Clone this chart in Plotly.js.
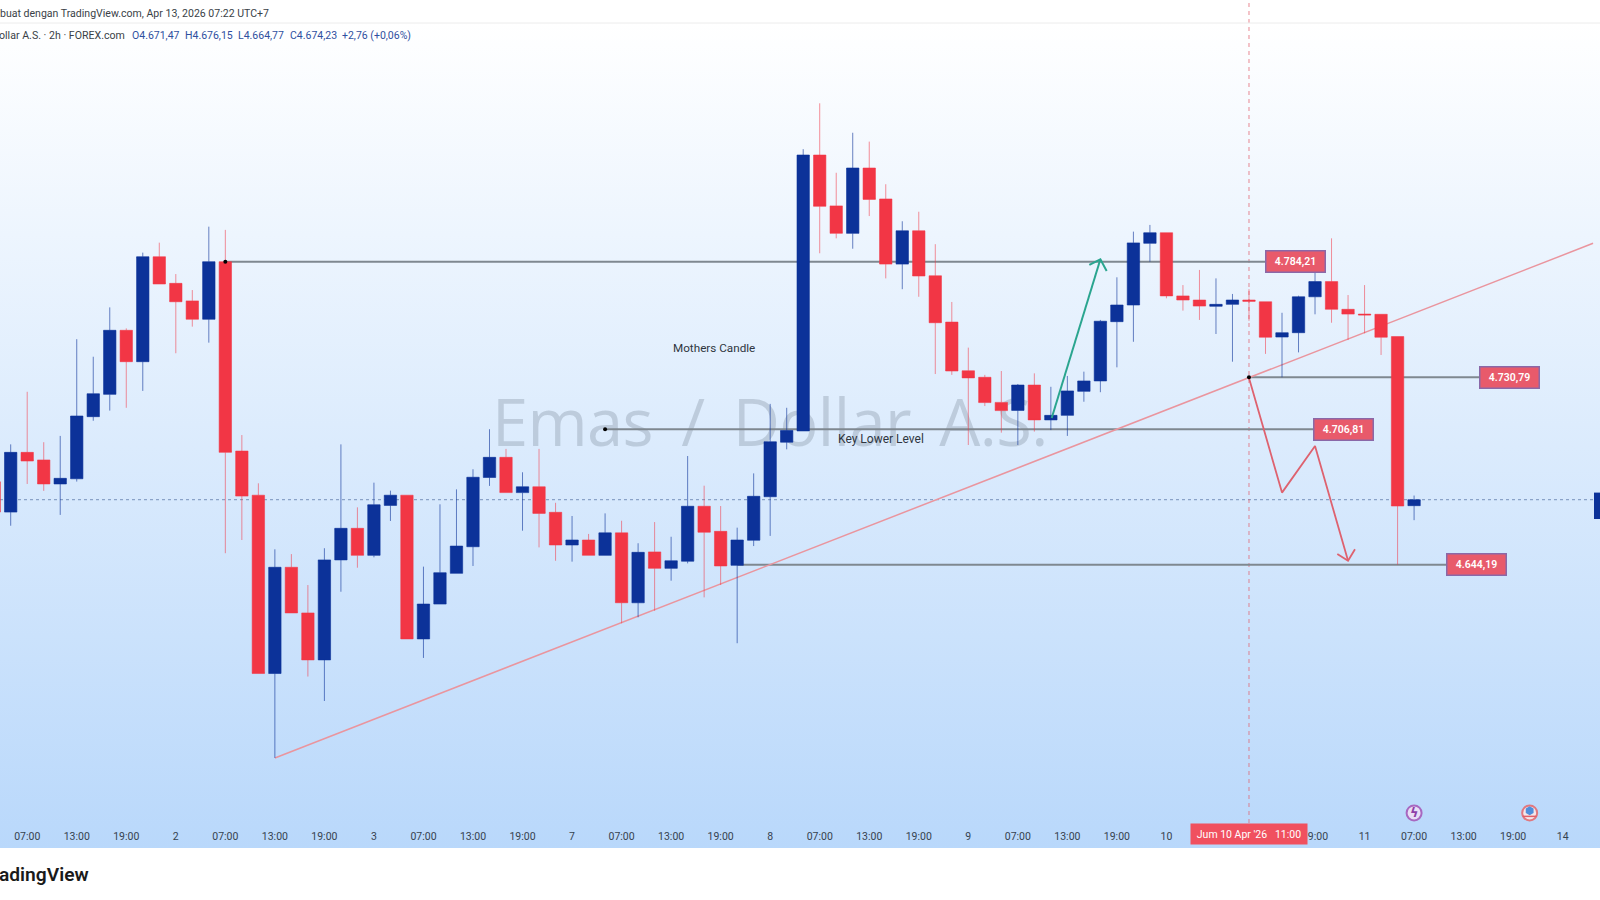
<!DOCTYPE html>
<html>
<head>
<meta charset="utf-8">
<script src="https://cdn.plot.ly/plotly-3.0.1.min.js"></script>
<style>
  html, body { margin: 0; padding: 0; background: #fff; overflow: hidden; }
  #bg { position: absolute; left: 0; top: 23px; width: 1600px; height: 825px;
        background: linear-gradient(to bottom, #ffffff 0%, #b9d8fb 100%); }
  #mark { position: absolute; left: 492px; top: 377px; white-space: nowrap; letter-spacing: -0.6px; word-spacing: 12px;
          font: 65px "Open Sans", sans-serif; color: rgba(110,125,140,0.29); }
  #chart { position: absolute; left: 0; top: 0; width: 1600px; height: 900px; }
</style>
</head>
<body>
<div id="bg"></div>
<div id="mark">Emas / Dollar A.S.</div>
<div id="chart"></div>
<script>
// candles, index -1 is the one cut off by the left edge
var open = [4682.5,4668.5,4696.1,4692.6,4681.5,4683.9,4712.6,4722.9,4752.5,4738.0,4786.5,4774.2,4766.1,4757.6,4784.2,4696.7,4676.3,4593.9,4643.0,4621.9,4600.2,4646.4,4661.0,4648.5,4671.6,4676.3,4609.9,4626.0,4640.2,4652.5,4684.5,4693.8,4677.5,4680.2,4668.4,4653.3,4655.6,4648.5,4658.9,4626.6,4650.1,4642.5,4645.8,4671.2,4659.6,4643.9,4655.5,4675.6,4700.8,4706.0,4833.5,4810.0,4797.3,4827.5,4813.2,4783.1,4798.5,4777.7,4756.3,4733.8,4730.8,4719.2,4715.5,4727.2,4711.1,4713.2,4724.3,4729.1,4756.5,4764.2,4792.7,4797.6,4768.4,4766.5,4763.6,4764.5,4766.5,4765.7,4749.4,4751.4,4768.0,4775.0,4762.2,4760.0,4759.9,4749.6,4671.47];
var high = [4682.5,4699.8,4724.1,4700.8,4703.7,4748.4,4740.3,4763.1,4753.4,4788.4,4793.0,4778.5,4771.1,4800.4,4798.9,4704.1,4681.8,4651.3,4649.1,4634.8,4651.8,4699.8,4670.7,4682.1,4678.4,4676.3,4643.3,4672.1,4679.0,4688.3,4706.8,4697.7,4686.9,4697.7,4672.8,4666.7,4658.4,4667.9,4664.5,4654.1,4663.9,4657.1,4694.4,4680.7,4671.3,4661.3,4686.4,4718.5,4716.7,4836.2,4857.4,4825.3,4843.8,4839.7,4820.0,4802.9,4807.3,4792.3,4765.6,4744.5,4731.9,4733.7,4727.7,4732.6,4726.4,4731.4,4733.4,4757.3,4777.0,4798.1,4801.2,4797.6,4773.4,4780.4,4776.5,4769.3,4771.5,4765.7,4760.6,4768.5,4782.7,4795.0,4768.8,4773.4,4759.9,4749.6,4676.15];
var low = [4668.5,4662.2,4681.5,4678.3,4667.2,4682.6,4710.7,4715.4,4716.7,4724.5,4773.9,4741.9,4754.2,4746.8,4649.5,4655.6,4593.9,4554.9,4621.9,4592.5,4581.2,4631.7,4642.8,4647.6,4664.4,4609.9,4601.1,4626.0,4640.2,4643.6,4680.6,4677.5,4659.9,4652.2,4646.0,4645.6,4648.5,4648.5,4617.1,4619.9,4622.9,4636.8,4644.8,4629.1,4634.8,4607.9,4652.8,4657.5,4697.5,4706.0,4788.1,4795.0,4790.2,4805.3,4776.5,4771.5,4768.0,4732.3,4731.9,4699.5,4717.5,4705.2,4699.5,4705.7,4706.4,4703.7,4719.5,4723.9,4735.4,4747.2,4784.2,4767.3,4761.6,4757.3,4750.8,4738.0,4756.9,4741.6,4730.8,4742.3,4759.9,4756.0,4748.0,4751.1,4741.1,4644.2,4664.77];
var close = [4668.5,4696.1,4692.1,4681.5,4684.1,4712.9,4723.2,4752.5,4738.0,4786.5,4773.9,4765.7,4757.6,4784.2,4696.1,4675.9,4593.9,4643.0,4621.9,4600.2,4646.4,4661.0,4648.5,4671.9,4676.3,4609.9,4626.0,4640.5,4652.8,4684.6,4693.8,4677.5,4680.2,4667.9,4653.3,4655.6,4648.5,4658.9,4626.6,4649.9,4642.5,4646.0,4671.2,4659.2,4643.6,4655.6,4675.8,4701.0,4706.2,4833.5,4809.8,4797.3,4827.5,4813.0,4783.1,4798.5,4777.6,4756.0,4733.7,4730.5,4719.1,4715.4,4727.2,4711.1,4713.2,4724.5,4729.1,4756.7,4764.2,4792.9,4797.6,4768.4,4766.5,4763.7,4764.5,4766.5,4765.9,4749.3,4751.4,4768.0,4775.0,4762.2,4760.0,4759.6,4749.3,4671.3,4674.23];
var candleIndex = open.map(function(v, i) { return i - 1; });

var tickIndex = [1,4,7,10,13,16,19,22,25,28,31,34,37,40,43,46,49,52,55,58,61,64,67,70,79,82,85,88,91,94];
var tickText = ['07:00','13:00','19:00','2','07:00','13:00','19:00','3','07:00','13:00','19:00','7','07:00','13:00','19:00','8','07:00','13:00','19:00','9','07:00','13:00','19:00','10','19:00','11','07:00','13:00','19:00','14'];

// horizontal levels: start candle, end candle, price, label centre
var levelPrice = [4784.21, 4730.79, 4706.81, 4644.19];
var levelStart = [13, 75, 36, 44];
var levelEnd = [77.8, 90.75, 80.7, 88.8];
var levelText = ['4.784,21', '4.730,79', '4.706,81', '4.644,19'];

var trendX = [16, 95.84];
var trendY = [4554.9, 4792.7];
var cursorIndex = 75;
var lastPrice = 4674.23;

var greenX = [63.05, 66, null, 65.33, 66, 66.38];
var greenY = [4712.0, 4785.3, null, 4782.7, 4785.3, 4779.9];
var redX = [75, 77, 79, 81, null, 80.35, 81, 81.42];
var redY = [4730.5, 4677.5, 4699.0, 4646.0, null, 4649.1, 4646.0, 4651.3];

var dotX = [13, 36, 75];
var dotY = [4784.21, 4706.81, 4730.79];
var eventX = [85, 92];
var eventY = [4529.5, 4529.5];

var BLUE = '#0c3299';
var RED = '#f23645';
var FONT = 'Roboto, "Noto Sans", sans-serif';

var traces = [
  {
    type: 'candlestick', x: candleIndex, open: open, high: high, low: low, close: close,
    increasing: { line: { color: 'rgba(12,50,153,0.6)', width: 1 }, fillcolor: BLUE },
    decreasing: { line: { color: 'rgba(242,54,69,0.55)', width: 1 }, fillcolor: RED },
    whiskerwidth: 0, hoverinfo: 'skip', showlegend: false
  },
  { type: 'scatter', mode: 'lines', x: greenX, y: greenY, line: { color: '#2aa58f', width: 2 }, connectgaps: false, hoverinfo: 'skip' },
  { type: 'scatter', mode: 'lines', x: redX, y: redY, line: { color: '#de626f', width: 1.8 }, connectgaps: false, hoverinfo: 'skip' },
  { type: 'scatter', mode: 'markers', x: dotX, y: dotY, marker: { color: '#000', size: 4 }, hoverinfo: 'skip' },
  { type: 'scatter', mode: 'markers', x: eventX, y: eventY, hoverinfo: 'skip',
    marker: { size: 15, color: ['#e8def6', '#f4e6ea'], line: { width: 2, color: ['#a868c0', '#e0787f'] } } },
  // little flag inside the second event badge
  { type: 'scatter', mode: 'markers', x: [92], y: [eventY[1] + 1], hoverinfo: 'skip', marker: { symbol: 'hexagon', size: 9, color: '#4f8fdc' } },
  { type: 'scatter', mode: 'markers', x: [92], y: [eventY[1] - 1.6], hoverinfo: 'skip', marker: { symbol: 'line-ew', size: 10, line: { width: 1.5, color: '#e0606a' } } }
];

var shapes = [];
// levels and trend sit behind the candles
levelPrice.forEach(function(p, i) {
  shapes.push({ type: 'line', layer: 'below', xref: 'x', yref: 'y', x0: levelStart[i], x1: levelEnd[i], y0: p, y1: p,
    line: { color: '#7f8890', width: 2 } });
});
shapes.push({ type: 'line', layer: 'below', xref: 'x', yref: 'y', x0: trendX[0], x1: trendX[1], y0: trendY[0], y1: trendY[1],
  line: { color: '#ea959e', width: 1.5 } });
shapes.push({ type: 'line', layer: 'below', xref: 'paper', yref: 'y', x0: 0, x1: 1, y0: lastPrice, y1: lastPrice,
  line: { color: 'rgba(80,110,160,0.7)', width: 1, dash: 'dot' } });
shapes.push({ type: 'line', layer: 'below', xref: 'x', yref: 'paper', x0: cursorIndex, x1: cursorIndex, y0: 0, y1: 1.03,
  line: { color: 'rgba(226,96,110,0.75)', width: 1, dash: '4px,4px' } });
// price tag cut off by the right edge
shapes.push({ type: 'rect', xref: 'paper', yref: 'paper', x0: 0.99625, x1: 1, y0: 0.38, y1: 0.413,
  fillcolor: BLUE, line: { width: 0 } });
// header rule
shapes.push({ type: 'line', xref: 'paper', yref: 'paper', x0: 0, x1: 1, y0: 1, y1: 1, line: { color: '#ececec', width: 1 } });

var annotations = [];
levelPrice.forEach(function(p, i) {
  annotations.push({ x: levelEnd[i], y: p, xref: 'x', yref: 'y', text: levelText[i], showarrow: false,
    width: 56, height: 18, bgcolor: '#e85a6b', bordercolor: '#8a68a8', borderwidth: 1.5,
    font: { family: FONT, size: 10.5, color: '#fff', weight: 600 } });
});
function note(text, x, y, size, color, extra) {
  var a = { text: text, x: x, y: y, xref: 'paper', yref: 'paper', xanchor: 'left', yanchor: 'middle', xshift: -3, showarrow: false,
    font: { family: FONT, size: size, color: color } };
  for (var k in extra) a[k] = extra[k];
  annotations.push(a);
}
annotations.push({ x: 42.57, y: 4744.3, xref: 'x', yref: 'y', text: 'Mothers Candle', showarrow: false, font: { family: FONT, size: 11.7, color: '#2f3640' } });
annotations.push({ x: 52.7, y: 4702.4, xref: 'x', yref: 'y', text: 'Key Lower Level', showarrow: false, font: { family: FONT, size: 12, color: '#2f3640' } });
annotations.push({ x: cursorIndex, y: 0, xref: 'x', yref: 'paper', yanchor: 'top', text: "Jum 10 Apr '26&nbsp;&nbsp;&nbsp;11:00", showarrow: false,
  width: 116, height: 20, borderpad: 0, bgcolor: '#f0505f', font: { family: FONT, size: 10.5, color: '#fff' } });
annotations.push({ x: 85, y: eventY[0], xref: 'x', yref: 'y', text: 'ϟ', showarrow: false, font: { family: '"DejaVu Sans"', size: 13, color: '#8e3fa8', weight: 700 } });

// page header and footer, positions in paper units of the plot box
function paperY(px) { return (823 - px) / 800; }
note('buat dengan TradingView.com, Apr 13, 2026 07:22 UTC+7', 0, paperY(13), 10.55, '#3a3f47', { xshift: -2 });
note('ollar A.S. · 2h · FOREX.com', 0, paperY(36), 10.6, '#3a3f47');
var ohlcText = ['O4.671,47', 'H4.676,15', 'L4.664,77', 'C4.674,23', '+2,76 (+0,06%)'];
var ohlcLeft = [133, 186, 239, 291, 343];
ohlcText.forEach(function(t, i) { note(t, ohlcLeft[i] / 1600, paperY(36), 10.5, '#2f4fa0'); });
note('adingView', 0, paperY(874), 19.2, '#1a1a1a', { font: { family: FONT, size: 19.2, color: '#1a1a1a', weight: 600 } });

var layout = {
  width: 1600, height: 900,
  margin: { l: 0, r: 0, t: 23, b: 77 },
  paper_bgcolor: 'rgba(0,0,0,0)',
  plot_bgcolor: 'rgba(0,0,0,0)',
  showlegend: false,
  boxgap: 0.25,
  boxgroupgap: 0,
  xaxis: {
    range: [-0.648, 96.26], showgrid: false, zeroline: false, showline: false,
    rangeslider: { visible: false }, tickmode: 'array', tickvals: tickIndex, ticktext: tickText,
    ticks: 'outside', ticklen: 3, tickcolor: 'rgba(0,0,0,0)', tickfont: { family: FONT, size: 10.5, color: '#36424f' }, tickangle: 0
  },
  yaxis: { range: [4524.83, 4894.51], showgrid: false, zeroline: false, showline: false, showticklabels: false, ticks: '' },
  shapes: shapes,
  annotations: annotations
};

Plotly.newPlot('chart', traces, layout, { displayModeBar: false, staticPlot: true });
</script>
</body>
</html>
